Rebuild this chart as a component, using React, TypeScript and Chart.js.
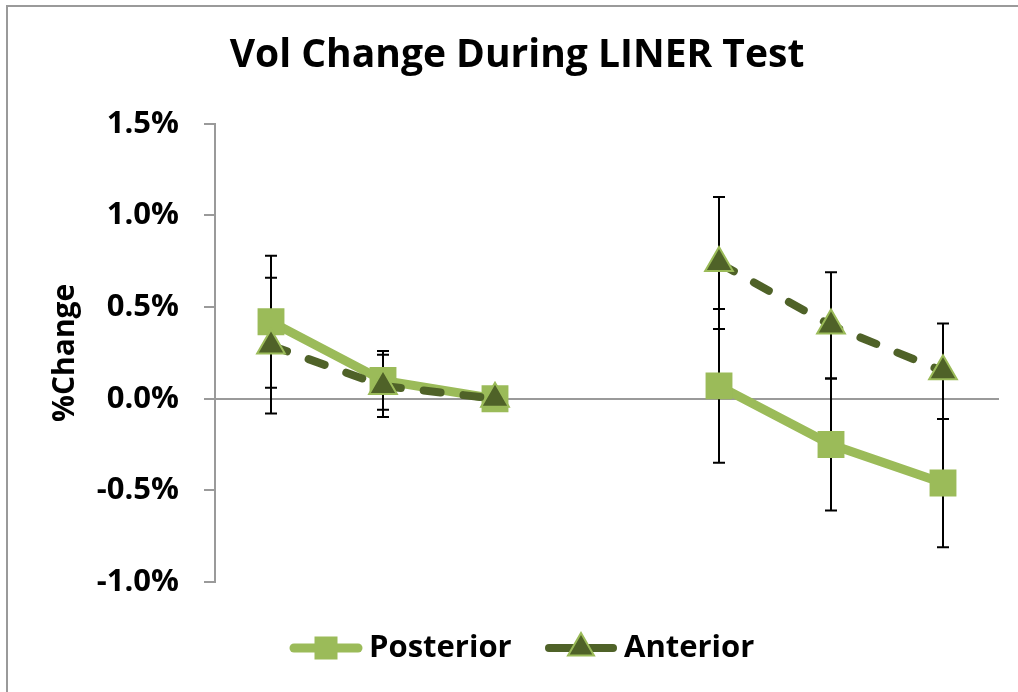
import React, { useEffect, useRef } from "react";
import { Chart, registerables } from "chart.js";

Chart.register(...registerables);

const titleText = "Vol Change During LINER Test";
const yAxisTitle = "%Change";
const categories = ["T1", "T2", "T3", "", "T4", "T5", "T6"];
const seriesNames = ["Posterior", "Anterior"];
const posterior = [0.42, 0.1, 0.0, null, 0.07, -0.25, -0.46];
const posteriorErr = [0.36, 0.16, 0, null, 0.42, 0.36, 0.35];
const anterior = [0.29, 0.07, 0.0, null, 0.74, 0.4, 0.15];
const anteriorErr = [0.37, 0.17, 0, null, 0.36, 0.29, 0.26];
const yMin = -1.0;
const yMax = 1.5;
const yStep = 0.5;

const LIGHT = "#9BBB59";
const DARK = "#4F6228";
const FONT = "'Open Sans', Lato, sans-serif";

const errorBarPlugin = {
  id: "errorBars",
  beforeDatasetsDraw(chart: any) {
    const ctx = chart.ctx;
    const xs = chart.scales.x;
    const ys = chart.scales.y;
    ctx.save();
    ctx.strokeStyle = "#000";
    ctx.lineWidth = 2;
    chart.data.datasets.forEach((ds: any) => {
      const errs = ds.errors || [];
      ds.data.forEach((v: any, i: number) => {
        const e = errs[i];
        if (v == null || e == null || e === 0) return;
        const x = xs.getPixelForValue(i);
        const yt = ys.getPixelForValue(v + e);
        const yb = ys.getPixelForValue(v - e);
        ctx.beginPath();
        ctx.moveTo(x, yt);
        ctx.lineTo(x, yb);
        ctx.moveTo(x - 6, yt);
        ctx.lineTo(x + 6, yt);
        ctx.moveTo(x - 6, yb);
        ctx.lineTo(x + 6, yb);
        ctx.stroke();
      });
    });
    ctx.restore();
  },
};

const framePlugin = {
  id: "frame",
  beforeDraw(chart: any) {
    const ctx = chart.ctx;
    ctx.save();
    ctx.fillStyle = "#fff";
    ctx.fillRect(0, 0, chart.width, chart.height);
    ctx.strokeStyle = "#9a9a9a";
    ctx.lineWidth = 2;
    ctx.beginPath();
    ctx.moveTo(7, chart.height);
    ctx.lineTo(7, 6);
    ctx.lineTo(chart.width, 6);
    ctx.stroke();
    ctx.restore();
  },
};

const legendPlugin = {
  id: "customLegend",
  afterDraw(chart: any) {
    const ctx = chart.ctx;
    const y = 648;
    const starts = [290, 545];
    ctx.save();
    chart.data.datasets.forEach((ds: any, idx: number) => {
      const x0 = starts[idx];
      const x1 = x0 + 72;
      const cx = (x0 + x1) / 2;
      ctx.lineCap = "round";
      ctx.strokeStyle = ds.borderColor;
      ctx.lineWidth = ds.borderWidth;
      ctx.setLineDash([]);
      ctx.beginPath();
      ctx.moveTo(x0 + 4, y);
      ctx.lineTo(x1 - 4, y);
      ctx.stroke();
      if (ds.pointStyle === "rect") {
        ctx.fillStyle = ds.pointBackgroundColor;
        ctx.fillRect(cx - 11.5, y - 11.5, 23, 23);
      } else {
        const r = 15;
        ctx.fillStyle = ds.pointBackgroundColor;
        ctx.strokeStyle = ds.pointBorderColor;
        ctx.lineWidth = 2;
        ctx.beginPath();
        ctx.moveTo(cx, y - r);
        ctx.lineTo(cx + r * 0.866, y + r * 0.5);
        ctx.lineTo(cx - r * 0.866, y + r * 0.5);
        ctx.closePath();
        ctx.fill();
        ctx.stroke();
      }
      ctx.fillStyle = "#000";
      ctx.font = `bold 31px ${FONT}`;
      ctx.textBaseline = "middle";
      ctx.textAlign = "left";
      ctx.fillText(ds.label, x1 + 7, y);
    });
    ctx.restore();
  },
};

export default function App() {
  const ref = useRef<HTMLCanvasElement | null>(null);
  useEffect(() => {
    if (!ref.current) return;
    const chart = new Chart(ref.current, {
      type: "line",
      data: {
        labels: categories,
        datasets: [
          {
            label: seriesNames[0],
            data: posterior,
            errors: posteriorErr,
            borderColor: LIGHT,
            backgroundColor: LIGHT,
            borderWidth: 9,
            pointStyle: "rect",
            pointRadius: 19,
            pointHoverRadius: 19,
            pointBackgroundColor: LIGHT,
            pointBorderColor: LIGHT,
            pointBorderWidth: 0,
            spanGaps: false,
            order: 2,
          } as any,
          {
            label: seriesNames[1],
            data: anterior,
            errors: anteriorErr,
            borderColor: DARK,
            backgroundColor: DARK,
            borderWidth: 8,
            borderDash: [17, 23],
            borderCapStyle: "round",
            pointStyle: "triangle",
            pointRadius: 16,
            pointHoverRadius: 16,
            pointBackgroundColor: DARK,
            pointBorderColor: LIGHT,
            pointBorderWidth: 2,
            spanGaps: false,
            order: 1,
          } as any,
        ],
      },
      options: {
        animation: false,
        responsive: false,
        devicePixelRatio: 1,
        layout: { padding: { left: 35, right: 19, top: 0, bottom: 110 } },
        plugins: {
          legend: { display: false },
          tooltip: { enabled: false },
          title: {
            display: true,
            text: titleText,
            color: "#000",
            font: { family: FONT, size: 39, weight: "bold", lineHeight: 1.2 },
            padding: { top: 32, bottom: 45 },
          },
        },
        scales: {
          x: {
            type: "category",
            offset: true,
            display: false,
          },
          y: {
            min: yMin,
            max: yMax,
            afterFit: (scale: any) => {
              scale.width = 180;
            },
            ticks: {
              stepSize: yStep,
              color: "#000",
              padding: 25,
              font: { family: FONT, size: 31, weight: "bold" },
              callback: (v: any) => Number(v).toFixed(1) + "%",
            },
            border: { display: true, color: "#9a9a9a", width: 2 },
            grid: {
              drawOnChartArea: true,
              color: (c: any) => (c.tick && c.tick.value === 0 ? "#9a9a9a" : "rgba(0,0,0,0)"),
              lineWidth: 2,
              tickColor: "#9a9a9a",
              tickLength: 11,
              tickWidth: 2,
            },
            title: {
              display: true,
              text: yAxisTitle,
              color: "#000",
              font: { family: FONT, size: 30, weight: "bold", lineHeight: 1.2 },
              padding: { top: 12, bottom: 0 },
            },
          },
        },
      },
      plugins: [framePlugin, errorBarPlugin, legendPlugin],
    } as any);
    return () => chart.destroy();
  }, []);
  return (
    <div style={{ position: "absolute", left: 0, top: 0, width: 1018, height: 692 }}>
      <canvas ref={ref} width={1018} height={692} style={{ display: "block" }} />
    </div>
  );
}
